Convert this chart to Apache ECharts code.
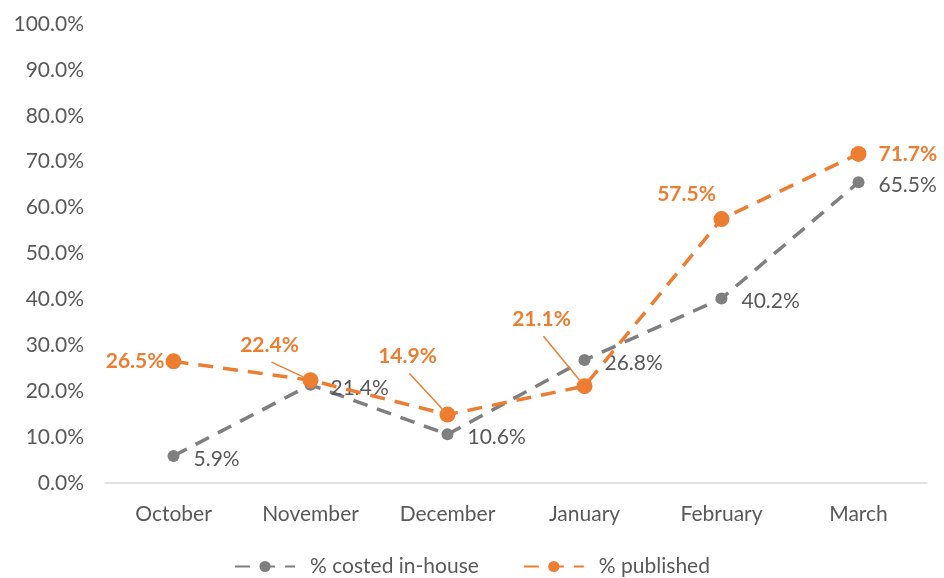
<!DOCTYPE html>
<html>
<head>
<meta charset="utf-8">
<script src="https://cdn.jsdelivr.net/npm/echarts@6/dist/echarts.min.js"></script>
<style>
  html, body { margin: 0; padding: 0; background: #fff; }
  #chart { width: 944px; height: 578px; }
</style>
</head>
<body>
<div id="chart"></div>
<script>
const months = ['October', 'November', 'December', 'January', 'February', 'March'];
const costedInHouse = [5.9, 21.4, 10.6, 26.8, 40.2, 65.5];
const published = [26.5, 22.4, 14.9, 21.1, 57.5, 71.7];

const GREY = '#7f7f7f';
const ORANGE = '#ed7d31';
const TEXT = '#595959';
const FONT = 'Lato';
const FS = 21;
const PUB_SIZE = 16;

// orange labels moved away from their point (label centre relative to point centre, px)
const pubLabelShift = { 1: [-41, -35], 2: [-40, -58], 3: [-43, -67], 4: [-35, -25] };
const pubLabelLine = [false, true, true, true, false, false];
const pubLabelSide = ['left', 'top', 'top', 'top', 'top', 'right'];
const pubLabelDist = [1, 6, 6, 6, 6, 12];

const pct = v => v.toFixed(1) + '%';

const chart = echarts.init(document.getElementById('chart'));

chart.setOption({
  animation: false,
  textStyle: { fontFamily: FONT },
  grid: { left: 105, right: 17, top: 24, bottom: 95, containLabel: false },
  legend: {
    bottom: -4,
    left: 'center',
    itemGap: 44,
    itemWidth: 60,
    itemHeight: 14,
    textStyle: { color: TEXT, fontSize: FS, fontFamily: FONT, padding: [0, 0, 0, 10] },
    data: ['% costed in-house', '% published']
  },
  xAxis: {
    type: 'category',
    data: months,
    boundaryGap: true,
    axisLine: { lineStyle: { color: '#d9d9d9', width: 1.5 } },
    axisTick: { show: false },
    axisLabel: { color: TEXT, fontSize: FS, margin: 21, fontFamily: FONT }
  },
  yAxis: {
    type: 'value',
    min: 0,
    max: 100,
    interval: 10,
    axisLine: { show: false },
    axisTick: { show: false },
    splitLine: { show: false },
    axisLabel: { color: TEXT, fontSize: FS, margin: 21, fontFamily: FONT, formatter: v => pct(v) }
  },
  series: [
    {
      name: '% costed in-house',
      type: 'line',
      data: costedInHouse,
      symbol: 'circle',
      symbolSize: 12,
      itemStyle: { color: GREY },
      lineStyle: { color: GREY, width: 3.5, type: [15, 10] },
      label: {
        show: true,
        position: 'right',
        distance: 14,
        offset: [0, 3],
        color: TEXT,
        fontSize: FS,
        fontFamily: FONT,
        formatter: p => pct(p.value)
      },
      z: 2
    },
    {
      name: '% published',
      type: 'line',
      data: published.map((v, i) => ({
        value: v,
        label: { position: pubLabelSide[i], distance: pubLabelDist[i] }
      })),
      symbol: 'circle',
      symbolSize: PUB_SIZE,
      itemStyle: { color: ORANGE },
      lineStyle: { color: ORANGE, width: 3.5, type: [15, 10] },
      label: {
        show: true,
        color: ORANGE,
        fontSize: FS,
        fontWeight: 'bold',
        fontFamily: FONT,
        formatter: p => pct(p.value)
      },
      labelLayout: params => {
        const s = pubLabelShift[params.dataIndex];
        if (!s) return {};
        return {
          x: params.rect.x + params.rect.width / 2 + s[0],
          y: params.rect.y + params.rect.height / 2 + s[1],
          align: 'center',
          verticalAlign: 'middle'
        };
      },
      z: 3
    },
    {
      // leader lines from the moved orange labels back to their points
      name: 'leader',
      type: 'custom',
      silent: true,
      z: 3,
      data: published.map((v, i) => [i, v]).filter(d => pubLabelLine[d[0]]),
      renderItem: (params, api) => {
        const i = api.value(0);
        const p = api.coord([i, api.value(1)]);
        const s = pubLabelShift[i];
        const start = [p[0] + s[0] + 2, p[1] + s[1] + 17];
        const dx = p[0] - start[0];
        const dy = p[1] - start[1];
        const d = Math.sqrt(dx * dx + dy * dy);
        const r = PUB_SIZE / 2;
        return {
          type: 'line',
          shape: { x1: start[0], y1: start[1], x2: p[0] - dx / d * r, y2: p[1] - dy / d * r },
          style: { stroke: ORANGE, lineWidth: 1.5 }
        };
      }
    }
  ]
});
</script>
</body>
</html>
